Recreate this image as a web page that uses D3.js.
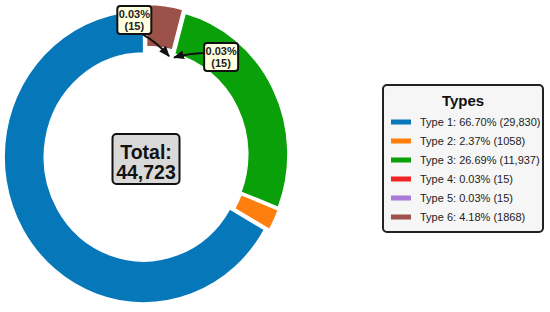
<!DOCTYPE html>
<html>
<head>
<meta charset="utf-8">
<script src="https://cdn.jsdelivr.net/npm/d3@7"></script>
<style>
  body { margin: 0; background: #fff; }
  svg { display: block; font-family: "Liberation Sans", Arial, sans-serif; }
</style>
</head>
<body>
<svg id="chart" width="550" height="312"></svg>
<script>
const categories = ["Type 1", "Type 2", "Type 3", "Type 4", "Type 5", "Type 6"];
const counts = [29830, 1058, 11937, 15, 15, 1868];
const colors = ["#0677b9", "#ff7f0e", "#0aa00a", "#f02424", "#a97bd6", "#9c5248"];
const explode = [0.02, 0.02, 0.02, 0, 0, 0.035];
const calloutTypes = ["Type 4", "Type 5"];
// label box offset from the arrow target, per callout
const calloutOffsets = [[-37, -38], [50, -1]];

const svg = d3.select("#chart");
const cx = 146, cy = 155.5, R = 146, r = 104, sx = 0.955;
const total = d3.sum(counts);
const fmtCount = (n) => (n >= 10000 ? d3.format(",")(n) : String(n));
const fmtPct = d3.format(".2%");

const dataset = categories.map((c, i) => ({
  type: c, count: counts[i], pct: counts[i] / total, color: colors[i], explode: explode[i]
}));

// counter-clockwise from 12 o'clock, like matplotlib startangle=90
const pie = d3.pie().sort(null).value((d) => d.count).startAngle(0).endAngle(-2 * Math.PI);
const arc = d3.arc().innerRadius(r).outerRadius(R);
const arcs = pie(dataset);

const chart = svg.append("g").attr("transform", `translate(${cx},${cy}) scale(${sx},1)`);
chart.selectAll("path")
  .data(arcs)
  .enter()
  .append("path")
  .attr("d", arc)
  .attr("fill", (d) => d.data.color)
  .attr("stroke", "#fff")
  .attr("stroke-width", 1.5)
  .attr("transform", (d) => {
    const a = (d.startAngle + d.endAngle) / 2;
    const e = d.data.explode * R;
    return `translate(${Math.sin(a) * e},${-Math.cos(a) * e})`;
  });

// centre total box
const centre = svg.append("g").attr("transform", `translate(${cx},${cy})`);
centre.append("rect")
  .attr("x", -33.5).attr("y", -21.5).attr("width", 67).attr("height", 50).attr("rx", 4)
  .attr("fill", "#d9d9d9").attr("stroke", "#111").attr("stroke-width", 2);
centre.append("text").attr("text-anchor", "middle").attr("y", 3.5)
  .attr("font-size", 19.5).attr("font-weight", "bold").attr("fill", "#111").text("Total:");
centre.append("text").attr("text-anchor", "middle").attr("y", 23.5)
  .attr("font-size", 19.5).attr("font-weight", "bold").attr("fill", "#111").text(fmtCount(total));

// arrowhead
svg.append("defs").append("marker")
  .attr("id", "head").attr("viewBox", "0 0 10 10").attr("refX", 9).attr("refY", 5)
  .attr("markerWidth", 5.5).attr("markerHeight", 5.5).attr("orient", "auto")
  .append("path").attr("d", "M0,1 L10,5 L0,9 Z").attr("fill", "#111");

// callouts for the tiny slices
calloutTypes.forEach((t, i) => {
  const d = arcs.find((a) => a.data.type === t);
  const a = (d.startAngle + d.endAngle) / 2;
  const rho = r - 3;
  const tx = cx + sx * rho * Math.sin(a), ty = cy - rho * Math.cos(a);
  const bx = tx + calloutOffsets[i][0], by = ty + calloutOffsets[i][1];
  const w = 34, h = 28;
  // start of arrow on box edge
  let sxp, syp;
  if (i === 0) { sxp = bx + 8; syp = by + h / 2; } else { sxp = bx - w / 2; syp = by - 4; }
  const dx = tx - sxp, dy = ty - syp, len = Math.hypot(dx, dy);
  const ex = tx - (dx / len) * 3, ey = ty - (dy / len) * 3;
  const mx = (sxp + ex) / 2 - dy / len * (i === 0 ? -3 : 2), my = (syp + ey) / 2 + dx / len * (i === 0 ? -3 : 2);
  svg.append("path")
    .attr("d", `M${sxp},${syp} Q${mx},${my} ${ex},${ey}`)
    .attr("fill", "none").attr("stroke", "#111").attr("stroke-width", 2)
    .attr("marker-end", "url(#head)");
  const g = svg.append("g").attr("transform", `translate(${bx},${by})`);
  g.append("rect").attr("x", -w / 2).attr("y", -h / 2).attr("width", w).attr("height", h).attr("rx", 3)
    .attr("fill", "#ffffe0").attr("stroke", "#111").attr("stroke-width", 2);
  g.append("text").attr("text-anchor", "middle").attr("y", -2).attr("font-size", 11)
    .attr("font-weight", "bold").attr("fill", "#222")
    .text(fmtPct(d.data.pct));
  g.append("text").attr("text-anchor", "middle").attr("y", 10).attr("font-size", 11)
    .attr("font-weight", "bold").attr("fill", "#222")
    .text(`(${d.data.count})`);
});

// legend
const legend = svg.append("g").attr("transform", "translate(383,85)");
legend.append("rect").attr("width", 160).attr("height", 147).attr("rx", 4)
  .attr("fill", "#f6f6f6").attr("stroke", "#222").attr("stroke-width", 2);
legend.append("text").attr("x", 80).attr("y", 21).attr("text-anchor", "middle")
  .attr("font-size", 15).attr("font-weight", "bold").attr("fill", "#111").text("Types");
const rows = legend.selectAll("g.row").data(dataset).enter().append("g")
  .attr("class", "row").attr("transform", (d, i) => `translate(0,${37 + i * 19})`);
rows.append("rect").attr("x", 8).attr("y", -2.5).attr("width", 20).attr("height", 5)
  .attr("fill", (d) => d.color);
rows.append("text").attr("x", 37).attr("y", 4).attr("font-size", 11).attr("fill", "#222")
  .text((d) => `${d.type}: ${fmtPct(d.pct)} (${fmtCount(d.count)})`);
</script>
</body>
</html>
